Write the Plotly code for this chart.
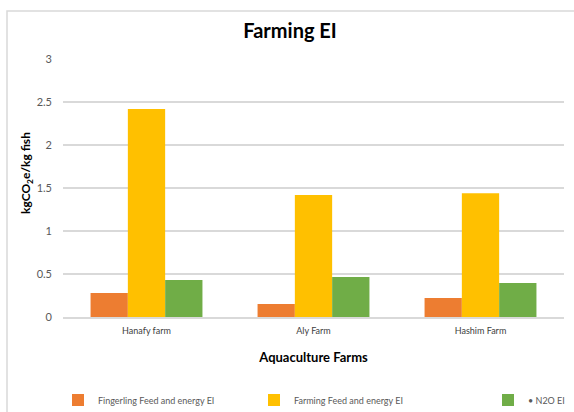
import plotly.graph_objects as go

farms = ["Hanafy farm", "Aly Farm", "Hashim Farm"]
fingerling_ei = [0.28, 0.15, 0.22]
farming_ei = [2.42, 1.42, 1.44]
n2o_ei = [0.43, 0.465, 0.395]
series_names = ["Fingerling Feed and energy EI", "Farming Feed and energy EI", "• N2O EI"]
colors = ["#ED7D31", "#FFC000", "#70AD47"]
y_ticks = [0, 0.5, 1, 1.5, 2, 2.5, 3]

FONT = "Lato, 'Open Sans', sans-serif"

# plot area in pixels (for paper conversions)
L, R, T, B = 63, 10, 59, 95
W, H = 574, 412
pw, ph = W - L - R, H - T - B
def px(x):
    return (x - L) / pw
def py(y):
    return (H - B - y) / ph

fig = go.Figure()
legends = ["legend", "legend2", "legend3"]
for vals, name, c, lg in zip([fingerling_ei, farming_ei, n2o_ei], series_names, colors, legends):
    fig.add_trace(go.Bar(x=farms, y=vals, name=name, marker=dict(color=c, line=dict(width=0)),
                         legend=lg, showlegend=True))

leg_common = dict(orientation="h", yanchor="middle", y=py(400), xanchor="left",
                  font=dict(family=FONT, size=9, color="#595959"), bgcolor="rgba(0,0,0,0)",
                  itemwidth=30, visible=True)

fig.update_layout(
    width=W, height=H,
    margin=dict(l=L, r=R, t=T, b=B, autoexpand=False),
    paper_bgcolor="white", plot_bgcolor="white",
    barmode="group", bargap=0.33, bargroupgap=0,
    showlegend=True,
    title=dict(text="<b>Farming EI</b>", x=290 / W, xref="container", xanchor="center", y=1 - 31 / H, yanchor="middle",
               font=dict(family=FONT, size=20, color="#000000")),
    font=dict(family=FONT, color="#595959"),
    legend=dict(**leg_common, x=px(58)),
    legend2=dict(**leg_common, x=px(254)),
    legend3=dict(**leg_common, x=px(488)),
    xaxis=dict(showline=True, linecolor="#D9D9D9", linewidth=1.5, ticks="",
               tickfont=dict(family=FONT, size=9, color="#404040"), ticklabelstandoff=4,
               title=dict(text="<b>Aquaculture Farms</b>", font=dict(family=FONT, size=13, color="#000000"), standoff=18)),
    yaxis=dict(range=[0, 3], tickvals=y_ticks, ticktext=[f"{v:g}" for v in y_ticks],
               showgrid=True, gridcolor="#D9D9D9", gridwidth=1.5, zeroline=False, showline=False,
               tickfont=dict(family=FONT, size=11, color="#595959"), ticklabelstandoff=10),
    annotations=[dict(text="<b>kgCO<sub>2</sub>e/kg fish</b>", textangle=-90, showarrow=False,
                      xref="paper", yref="paper", x=px(26), y=py(173), xanchor="center", yanchor="middle",
                      font=dict(family=FONT, size=12, color="#000000"))],
    shapes=[dict(type="rect", xref="paper", yref="paper", x0=px(7), x1=px(620), y0=py(11), y1=py(460),
                 line=dict(color="#D9D9D9", width=1.5), fillcolor="rgba(0,0,0,0)", layer="below")],
)

fig.write_html("out.html", config={"displayModeBar": False},
               post_script="document.body.style.margin='0';document.body.style.overflow='hidden';")
